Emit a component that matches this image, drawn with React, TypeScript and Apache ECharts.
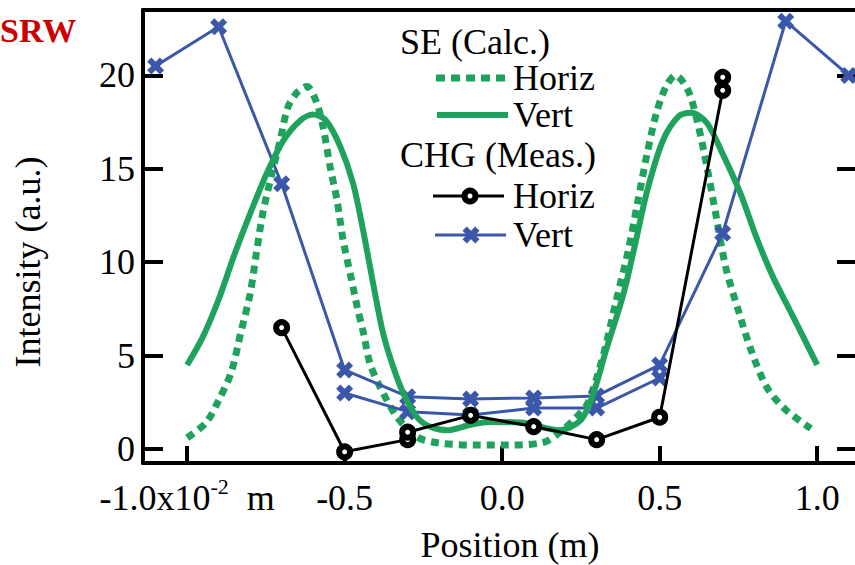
import React, { useEffect, useRef } from 'react';
import * as echarts from 'echarts';

const xTicks = [-1.0, -0.5, 0.0, 0.5, 1.0];
const yTicks = [0, 5, 10, 15, 20];

// SE (Calc.) Horiz — dotted green
const seHoriz: number[][] = [
  [-1.0, 0.6], [-0.94, 1.4], [-0.9, 2.6], [-0.86, 4.1], [-0.83, 6.2], [-0.8, 8.3],
  [-0.78, 10.5], [-0.76, 12.6], [-0.73, 14.8], [-0.705, 16.5], [-0.68, 18.3], [-0.65, 19.1],
  [-0.62, 19.4], [-0.59, 18.6], [-0.568, 17.2], [-0.546, 15.1], [-0.524, 13.3], [-0.505, 11.2],
  [-0.48, 9.2], [-0.46, 7.6], [-0.44, 6.2], [-0.42, 4.6], [-0.387, 3.3], [-0.333, 1.7],
  [-0.27, 0.64], [-0.2, 0.32], [-0.09, 0.21], [0.02, 0.21], [0.13, 0.35], [0.18, 0.85],
  [0.23, 1.6], [0.27, 2.4], [0.3, 3.8], [0.33, 5.6], [0.36, 7.8], [0.4, 10.6],
  [0.43, 13.2], [0.46, 15.8], [0.49, 18.0], [0.52, 19.4], [0.55, 20.0], [0.59, 19.2],
  [0.62, 17.5], [0.65, 15.1], [0.68, 12.4], [0.71, 9.7], [0.75, 7.4], [0.79, 5.3],
  [0.84, 3.3], [0.9, 2.1], [0.98, 1.1],
];

// SE (Calc.) Vert — solid green
const seVert: number[][] = [
  [-1.0, 4.5], [-0.95, 6.0], [-0.9, 8.0], [-0.85, 10.4], [-0.8, 12.6], [-0.746, 14.8],
  [-0.695, 16.5], [-0.64, 17.6], [-0.6, 17.9], [-0.56, 17.6], [-0.514, 16.2], [-0.473, 14.2],
  [-0.44, 11.6], [-0.41, 8.9], [-0.378, 6.2], [-0.346, 4.4], [-0.314, 3.0], [-0.27, 1.7],
  [-0.23, 1.2], [-0.175, 1.0], [-0.1, 1.3], [-0.04, 1.45], [0.067, 1.4], [0.18, 1.0],
  [0.25, 1.55], [0.29, 3.0], [0.33, 5.3], [0.385, 8.3], [0.42, 10.8], [0.46, 13.8],
  [0.51, 16.5], [0.56, 17.8], [0.6, 18.0], [0.65, 17.45], [0.7, 15.8], [0.756, 13.7],
  [0.81, 11.2], [0.86, 9.2], [0.914, 7.4], [1.0, 4.5],
];

// CHG (Meas.) Horiz — black circles
const chgHoriz: number[][] = [
  [-0.7, 6.5], [-0.5, -0.15], [-0.3, 0.5], [-0.3, 0.9], [-0.1, 1.8], [0.1, 1.2],
  [0.3, 0.5], [0.5, 1.7], [0.7, 19.2], [0.7, 19.9],
];

// CHG (Meas.) Vert — blue crosses (two scans)
const chgVertA: number[][] = [
  [-1.1, 20.5], [-0.9, 22.6], [-0.7, 14.2], [-0.5, 4.23], [-0.3, 2.8], [-0.1, 2.68],
  [0.1, 2.73], [0.3, 2.84], [0.5, 4.5], [0.7, 11.55], [0.9, 22.9], [1.1, 20.0],
];
const chgVertB: number[][] = [
  [-0.5, 3.0], [-0.3, 2.0], [-0.1, 1.82], [0.1, 2.19], [0.3, 2.19], [0.5, 3.8],
];

const GREEN = '#1fa35c';
const BLUE = '#3b57a9';
const FONT = '"Liberation Serif", "Times New Roman", serif';
const XPTS = [[4,0],[8,4],[12,0],[16,4],[12,8],[16,12],[12,16],[8,12],[4,16],[0,12],[4,8],[0,4]];
const XSYM = 'path://M' + XPTS.map((p) => p.join(',')).join(' L') + ' Z';

export default function App() {
  const ref = useRef<HTMLDivElement>(null);
  useEffect(() => {
    if (!ref.current) return;
    const chart = echarts.init(ref.current, undefined, { renderer: 'svg' });
    const txt = (text: string, x: number, y: number, extra: any = {}) => ({
      type: 'text', x, y,
      style: { text, fontSize: 36, fontFamily: FONT, fill: '#000', align: 'left', verticalAlign: 'middle', ...extra },
    });
    const xShape = (cx: number, cy: number, s: number) =>
      XPTS.map(([a, b]) => [cx + (a - 8) * s / 16, cy + (b - 8) * s / 16]);
    const axisLine = { show: true, onZero: false, lineStyle: { color: '#000', width: 4 } };
    const tickStyle = { color: '#000', width: 4 };
    chart.setOption({
      animation: false,
      backgroundColor: '#fff',
      grid: { left: 143, top: 10, right: 0, bottom: 102 },
      xAxis: [
        {
          type: 'value', min: -1.14, max: 1.12, position: 'bottom',
          axisLine, splitLine: { show: false },
          axisTick: { show: true, inside: true, length: 17, customValues: xTicks, lineStyle: tickStyle },
          axisLabel: {
            customValues: xTicks, margin: 12, color: '#000', fontSize: 36, fontFamily: FONT, lineHeight: 46,
            formatter: (v: number) => (Math.abs(v + 1) < 1e-9 ? '{a|-1.0x10}{s|-2}{a|  m}' : v.toFixed(1)),
            rich: {
              a: { fontSize: 36, fontFamily: FONT, color: '#000', lineHeight: 46 },
              s: { fontSize: 22, fontFamily: FONT, color: '#000', verticalAlign: 'top', lineHeight: 14, padding: [0, 0, 24, 0] },
            },
          },
        },
        {
          type: 'value', min: -1.14, max: 1.12, position: 'top',
          axisLine, splitLine: { show: false }, axisTick: { show: false }, axisLabel: { show: false },
        },
      ],
      yAxis: [
        {
          type: 'value', min: -0.75, max: 23.5, position: 'left',
          axisLine, splitLine: { show: false },
          axisTick: { show: true, inside: true, length: 20, customValues: yTicks, lineStyle: tickStyle },
          axisLabel: { customValues: yTicks, margin: 8, color: '#000', fontSize: 36, fontFamily: FONT },
        },
        {
          type: 'value', min: -0.75, max: 23.5, position: 'right',
          axisLine: { show: false, onZero: false }, splitLine: { show: false },
          axisTick: { show: true, inside: true, length: 18, customValues: yTicks, lineStyle: tickStyle },
          axisLabel: { show: false },
        },
      ],
      series: [
        {
          name: 'SE Horiz', type: 'line', data: seHoriz, showSymbol: false, smooth: 0.3,
          lineStyle: { color: GREEN, width: 7, type: [8, 6] }, z: 2,
        },
        {
          name: 'SE Vert', type: 'line', data: seVert, showSymbol: false, smooth: 0.3,
          lineStyle: { color: GREEN, width: 6 }, z: 4,
        },
        {
          name: 'CHG Vert A', type: 'line', data: chgVertA, symbol: XSYM, symbolSize: 17,
          itemStyle: { color: BLUE }, lineStyle: { color: BLUE, width: 3 }, z: 3,
        },
        {
          name: 'CHG Vert B', type: 'line', data: chgVertB, symbol: XSYM, symbolSize: 17,
          itemStyle: { color: BLUE }, lineStyle: { color: BLUE, width: 3 }, z: 3,
        },
        {
          name: 'CHG Horiz', type: 'line', data: chgHoriz, symbol: 'circle', symbolSize: 11,
          itemStyle: { color: '#fff', borderColor: '#000', borderWidth: 6 },
          lineStyle: { color: '#000', width: 3 }, z: 5,
        },
      ],
      graphic: [
        txt('SRW', 0, 30, { fontWeight: 'bold', fill: '#cc0000', fontSize: 34 }),
        { ...txt('Intensity (a.u.)', 28, 262, { align: 'center' }), rotation: Math.PI / 2 },
        txt('Position (m)', 510, 545, { align: 'center' }),
        txt('SE (Calc.)', 400, 42),
        { type: 'line', shape: { x1: 436, y1: 78, x2: 506, y2: 78 }, style: { stroke: GREEN, lineWidth: 7, lineDash: [9, 6] } },
        txt('Horiz', 513, 78),
        { type: 'line', shape: { x1: 437, y1: 115, x2: 508, y2: 115 }, style: { stroke: GREEN, lineWidth: 6 } },
        txt('Vert', 513, 115),
        txt('CHG (Meas.)', 400, 155),
        { type: 'line', shape: { x1: 433, y1: 196, x2: 504, y2: 196 }, style: { stroke: '#000', lineWidth: 3 } },
        { type: 'circle', shape: { cx: 470, cy: 196, r: 5.5 }, style: { fill: '#fff', stroke: '#000', lineWidth: 6 } },
        txt('Horiz', 513, 196),
        { type: 'line', shape: { x1: 435, y1: 235, x2: 506, y2: 235 }, style: { stroke: BLUE, lineWidth: 3 } },
        { type: 'polygon', shape: { points: xShape(471, 235, 17) }, style: { fill: BLUE } },
        txt('Vert', 513, 235),
      ],
    });
    return () => chart.dispose();
  }, []);
  return <div ref={ref} style={{ position: 'absolute', left: 0, top: 0, width: 855, height: 565 }} />;
}
